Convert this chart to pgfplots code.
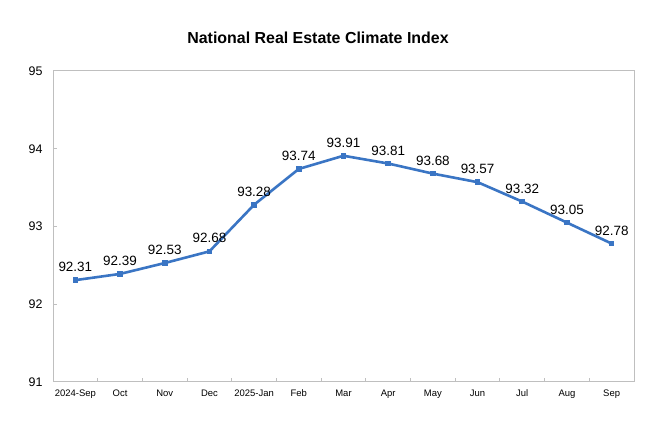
\documentclass[border=0pt]{standalone}
\usepackage{pgfplots}
\pgfplotsset{compat=1.18}
\usepackage{fontspec}
\setmainfont{Liberation Sans}
\definecolor{lineblue}{HTML}{3A75C4}
\definecolor{axgray}{HTML}{BFBFBF}
\begin{document}
\begin{tikzpicture}[x=1bp,y=1bp]
\useasboundingbox[fill=white] (0,0) rectangle (660,440);
\node[font=\bfseries\fontsize{16}{19}\selectfont] at (318,402) {National Real Estate Climate Index};
\begin{axis}[at={(53bp,58bp)}, anchor=south west,
    scale only axis, width=581bp, height=311bp,
    xmin=-0.5, xmax=12.5, ymin=91, ymax=95,
    ytick={91,92,93,94,95},
    xtick={0,...,12},
    xticklabels={2024-Sep,Oct,Nov,Dec,2025-Jan,Feb,Mar,Apr,May,Jun,Jul,Aug,Sep},
    minor xtick={-0.5,0.5,...,12.5},
    major x tick style={draw=none},
    xtick pos=bottom, ytick pos=left,
    tick align=inside,
    major tick length=4bp, minor tick length=4bp,
    axis line style={axgray, line width=1bp},
    tick style={axgray, line width=1bp},
    /pgf/number format/assume math mode=true,
    x tick label style={font=\fontsize{9.5}{11}\selectfont, yshift=-4bp},
    y tick label style={font=\fontsize{12.5}{14}\selectfont, xshift=-7bp},
    nodes near coords,
    point meta=explicit symbolic,
    nodes near coords style={font=\fontsize{13.5}{15}\selectfont, text=black, yshift=5bp},
    clip=false,
]
\addplot[lineblue, line width=2.6bp, mark=square*, mark size=2.3bp,
    mark options={fill=lineblue, line width=0pt}]
    coordinates {
    (0,92.31)[92.31]
    (1,92.39)[92.39]
    (2,92.53)[92.53]
    (3,92.68)[92.68]
    (4,93.28)[93.28]
    (5,93.74)[93.74]
    (6,93.91)[93.91]
    (7,93.81)[93.81]
    (8,93.68)[93.68]
    (9,93.57)[93.57]
    (10,93.32)[93.32]
    (11,93.05)[93.05]
    (12,92.78)[92.78]
    };
\end{axis}
\end{tikzpicture}
\end{document}
